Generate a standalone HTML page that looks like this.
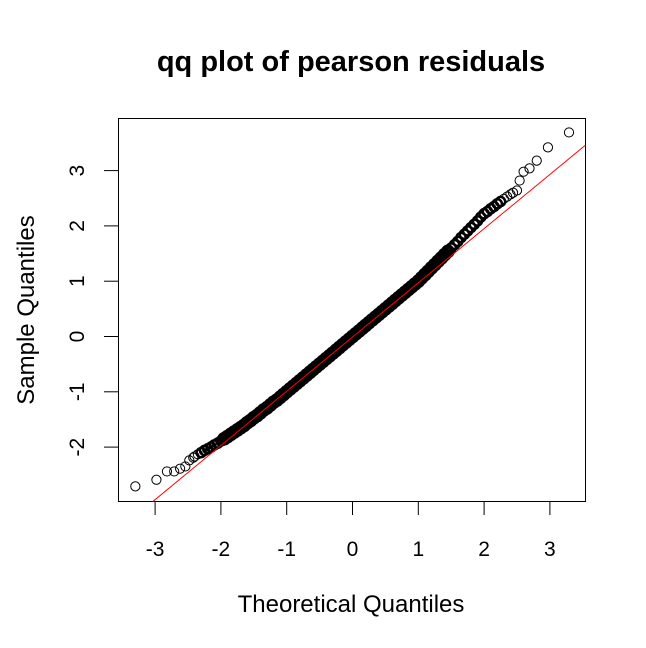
<!DOCTYPE html>
<html><head><meta charset="utf-8"><style>
html,body{margin:0;padding:0;background:#fff;}
svg{display:block;font-family:"Liberation Sans",Arial,sans-serif;}
</style></head><body>
<svg id="chart" width="646" height="648" viewBox="0 0 646 648" xmlns="http://www.w3.org/2000/svg">
<text x="351" y="71" text-anchor="middle" font-size="29" font-weight="bold">qq plot of pearson residuals</text>
<text x="351" y="612" text-anchor="middle" font-size="24">Theoretical Quantiles</text>
<text transform="translate(34,310) rotate(-90)" text-anchor="middle" font-size="24">Sample Quantiles</text>
<rect x="118.5" y="118.5" width="467" height="383" fill="none" stroke="#000" stroke-width="1"/>
<g id="xticks"></g>
<g id="yticks"></g>
<g id="pts"></g>
<g id="ln"></g>
</svg>
<script>
const xTicks=[-3,-2,-1,0,1,2,3];
const yTicks=[-2,-1,0,1,2,3];
const theoretical=[-3.30,-2.98,-2.82,-2.71,-2.62,-2.54,-2.48,-2.42,
-2.40,-2.35,-2.30,-2.25,-2.20,-2.15,-2.10,-2.05,-2.00,-1.95,-1.90,-1.85,-1.80,-1.75,-1.70,-1.65,-1.60,-1.55,-1.50,-1.45,-1.40,-1.35,-1.30,-1.25,-1.20,-1.15,-1.10,-1.05,-1.00,
-0.95,-0.90,-0.85,-0.80,-0.75,-0.70,-0.65,-0.60,-0.55,-0.50,-0.45,-0.40,-0.35,-0.30,-0.25,-0.20,-0.15,-0.10,-0.05,0,
0.05,0.10,0.15,0.20,0.25,0.30,0.35,0.40,0.45,0.50,0.55,0.60,0.65,0.70,0.75,0.80,0.85,0.90,0.95,1.00,
1.05,1.10,1.15,1.20,1.25,1.30,1.35,1.40,1.45,1.50,1.55,1.60,1.65,1.70,1.75,1.80,1.85,1.90,1.95,2.00,2.05,2.10,2.15,2.20,2.25,2.30,2.35,2.40,
2.44,2.50,2.54,2.60,2.69,2.80,2.97,3.29];
const sample=[-2.71,-2.59,-2.44,-2.44,-2.39,-2.35,-2.24,-2.19,
-2.17,-2.13,-2.10,-2.06,-2.03,-2.00,-1.96,-1.93,-1.89,-1.85,-1.81,-1.77,-1.73,-1.69,-1.65,-1.61,-1.56,-1.52,-1.47,-1.43,-1.38,-1.33,-1.29,-1.24,-1.19,-1.15,-1.10,-1.05,-1.00,
-0.95,-0.90,-0.85,-0.80,-0.75,-0.70,-0.65,-0.60,-0.55,-0.50,-0.45,-0.40,-0.35,-0.30,-0.25,-0.20,-0.15,-0.10,-0.05,0,
0.05,0.10,0.15,0.20,0.25,0.30,0.35,0.40,0.45,0.50,0.55,0.60,0.65,0.70,0.75,0.80,0.85,0.90,0.95,1.00,
1.06,1.12,1.18,1.24,1.30,1.36,1.42,1.48,1.54,1.60,1.66,1.72,1.79,1.85,1.91,1.97,2.03,2.09,2.16,2.22,2.26,2.31,2.35,2.40,2.44,2.49,2.53,2.57,
2.60,2.64,2.82,2.98,3.04,3.18,3.42,3.69];
const lineIntercept=-0.01, lineSlope=0.98;
const NS='http://www.w3.org/2000/svg';
const X=v=>352.5+v*65.8;
const Y=v=>336.5-v*55.3;
function mk(t,a,p){const e=document.createElementNS(NS,t);for(const k in a)e.setAttribute(k,a[k]);p.appendChild(e);return e;}
const gx=document.getElementById('xticks');
xTicks.forEach(v=>{
 const l=mk('line',{x1:X(v),x2:X(v),y1:501.5,y2:515,stroke:'#000'},gx);
 
 
 const t=mk('text',{x:X(v),y:556,'text-anchor':'middle','font-size':'21'},gx);
 
 
 t.textContent=v;
});
const gy=document.getElementById('yticks');
yTicks.forEach(v=>{
 const l=mk('line',{x1:104,x2:118.5,y1:Y(v),y2:Y(v),stroke:'#000'},gy);
 
 
 const t=mk('text',{x:0,y:0,'text-anchor':'middle','font-size':'21',transform:`translate(84,${Y(v)}) rotate(-90)`},gy);
 
 
 t.textContent=v;
});
const gp=document.getElementById('pts');
theoretical.forEach((v,i)=>{
 const sw=(v>-2.0&&v<1.5)?4.6:((v>-2.35&&v<2.3)?2.4:1);
 const c=mk('circle',{cx:X(v),cy:Y(sample[i]),r:4.6,fill:'none',stroke:'#000','stroke-width':sw},gp);
 
 
});
const gl=document.getElementById('ln');
const x0=(118.5-352.5)/65.8,x1=(585.5-352.5)/65.8;
const rl=mk('line',{x1:X(x0),y1:Y(lineIntercept+lineSlope*x0),x2:X(x1),y2:Y(lineIntercept+lineSlope*x1),stroke:'#ff0000','stroke-width':1},gl);


const clip=mk('clipPath',{id:'c'},document.getElementById('chart'));
mk('rect',{x:118.5,y:118.5,width:467,height:383},clip);
gl.setAttribute('clip-path','url(#c)');
</script>
</body></html>
